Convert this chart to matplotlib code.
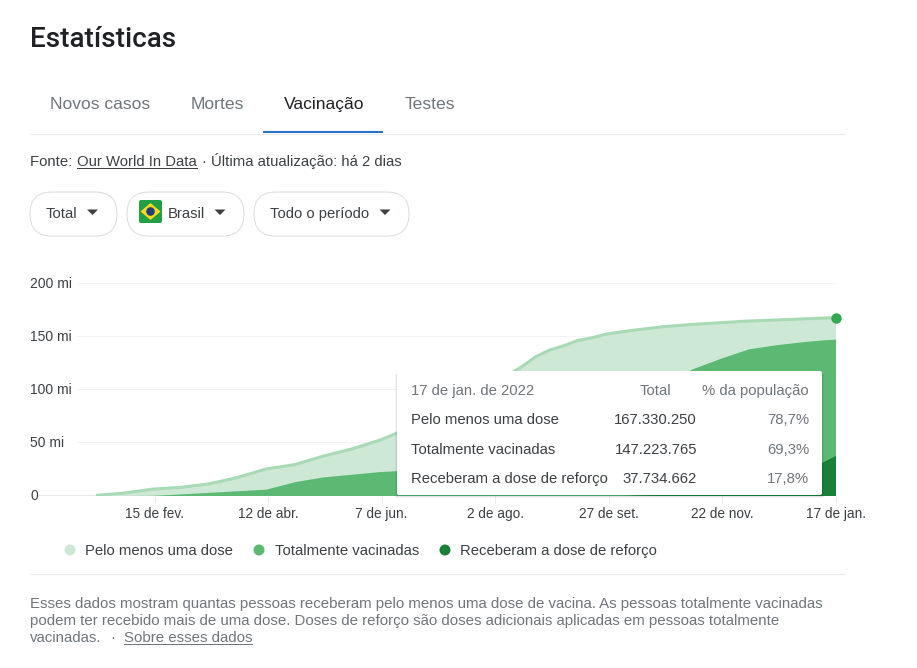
import pandas as pd
import matplotlib
matplotlib.use('Agg')
import matplotlib.pyplot as plt
from matplotlib.patches import FancyBboxPatch, Rectangle, Polygon, Circle

plt.rcParams['font.family'] = ['Liberation Sans', 'DejaVu Sans']

W, H = 917, 668

# values in millions (the part behind the tooltip is a guess)
dates = ['2021-01-17', '2021-01-31', '2021-02-14', '2021-02-28', '2021-03-14', '2021-03-28',
         '2021-04-11', '2021-04-25', '2021-05-09', '2021-05-23', '2021-06-06', '2021-06-20',
         '2021-07-04', '2021-07-18', '2021-08-01', '2021-08-15', '2021-08-22', '2021-08-29',
         '2021-09-05', '2021-09-12', '2021-09-19', '2021-09-26', '2021-10-03', '2021-10-10',
         '2021-10-24', '2021-11-07', '2021-11-21', '2021-12-05', '2021-12-19', '2022-01-02',
         '2022-01-11', '2022-01-17']
pelo_menos = [0.1, 2.3, 6.0, 7.7, 11, 17, 25, 29, 37, 43.7, 52, 63, 78, 93, 105, 121,
              130.6, 137, 141, 146, 148.5, 152, 153.9, 155.7, 158.9, 161, 162.6, 164.2,
              165.2, 166.3, 167.0, 167.3]
totalmente = [0, 0, 0.2, 1.5, 3, 4.5, 6, 13, 17.5, 20, 22.5, 24, 28, 34, 40, 47,
              51, 56, 61, 66, 72, 78, 84, 90, 103, 119, 129, 138, 142, 145, 146.5, 147.2]
reforco = [0, 0, 0, 0, 0, 0, 0, 0, 0, 0, 0, 0, 0, 0, 0, 0,
           0, 0, 0, 0, 0, 0, 0, 0.5, 1, 2, 4, 8, 16, 24, 32, 37.7]

x_ticks = ['2021-02-15', '2021-04-12', '2021-06-07', '2021-08-02', '2021-09-27', '2021-11-22', '2022-01-17']
x_labels = ['15 de fev.', '12 de abr.', '7 de jun.', '2 de ago.', '27 de set.', '22 de nov.', '17 de jan.']
y_ticks = [0, 50, 100, 150, 200]
y_labels = ['0', '50 mi', '100 mi', '150 mi', '200 mi']

series_names = ['Pelo menos uma dose', 'Totalmente vacinadas', 'Receberam a dose de reforço']
series_total = ['167.330.250', '147.223.765', '37.734.662']
series_pct = ['78,7%', '69,3%', '17,8%']

tabs = ['Novos casos', 'Mortes', 'Vacinação', 'Testes']

x = pd.to_datetime(dates)

c_light = '#cee8d6'
c_light_top = '#a8dab5'
c_mid = '#5bb974'
c_dark = '#188038'
c_text = '#3c4043'
c_grey = '#70757a'
c_line = '#e8eaed'
px1 = 0.72  # line width of one pixel

fig = plt.figure(figsize=(W / 100, H / 100), dpi=100, facecolor='white')

# chart
left, right, top, bottom = 30, 835.5, 252, 495.5
ax = fig.add_axes([left / W, 1 - bottom / H, (right - left) / W, (bottom - top) / H])
px_per_day = (right - 96) / 365
ax.set_xlim(x[0] - pd.Timedelta(days=(96 - left) / px_per_day), x[-1])
ax.set_ylim(0, (bottom - top) / 1.0625)
for s in ax.spines.values():
    s.set_visible(False)
ax.patch.set_alpha(0)

for v in y_ticks[1:]:
    ax.axhline(v, xmin=(77 - left) / (right - left), color='#f1f3f4', lw=px1, zorder=1)
ax.axhline(0, xmin=(38 - left) / (right - left), color='#e8eaed', lw=1.4, zorder=1)

ax.fill_between(x, pelo_menos, color=c_light, lw=0, zorder=2)
ax.plot(x, pelo_menos, color=c_light_top, lw=2.2, zorder=3, solid_capstyle='butt')
ax.fill_between(x, totalmente, color=c_mid, lw=0, zorder=4)
ax.fill_between(x, reforco, color=c_dark, lw=0, zorder=5)

ax.axvline(x[-1], color='#5f6368', lw=px1, ls=(0, (1, 1.4)), zorder=6)
ax.plot([x[-1]], [pelo_menos[-1]], 'o', color='#34a853', ms=7.5, mew=0, zorder=7, clip_on=False)

ax.set_xticks(pd.to_datetime(x_ticks))
ax.set_xticklabels(x_labels, fontsize=9.8, color=c_text)
ax.tick_params(axis='x', length=5, width=px1, color=c_line, pad=3.5)
ax.set_yticks(y_ticks)
ax.set_yticklabels([])
ax.tick_params(axis='y', length=0)
for v, lab in zip(y_ticks, y_labels):
    ax.text(0, v - 0.8, lab, transform=ax.get_yaxis_transform(), ha='left', va='center',
            fontsize=10, color=c_text, clip_on=False)

# page furniture, in pixel coordinates
ov = fig.add_axes([0, 0, 1, 1])
ov.set_xlim(0, W)
ov.set_ylim(H, 0)
ov.axis('off')
ov.patch.set_alpha(0)


# py is the middle of the capitals, text sits on its baseline so rows line up
def txt(px, py, s, size=10.7, color=c_text, ha='left', **kw):
    return ov.text(px, py + size * 0.47, s, fontsize=size, color=color, ha=ha, va='baseline', **kw)


txt(30, 38, 'Estatísticas', size=20.1, color='#202124', family='Roboto', weight='medium')

# tabs
tab_x = [100, 217, 324, 429.5]
for i, (t, tx) in enumerate(zip(tabs, tab_x)):
    txt(tx, 103, t, size=12.6, color='#202124' if i == 2 else c_grey, ha='center')
ov.plot([30, 845], [133.5, 133.5], color=c_line, lw=px1)
ov.plot([263, 383], [132, 132], color='#2b6fc2', lw=1.5, solid_capstyle='butt')

# source line
txt(30, 161, 'Fonte: ')
txt(77, 161, 'Our World In Data')
ov.plot([77, 197], [167.5, 167.5], color=c_text, lw=px1)
txt(202, 161, '· Última atualização: há 2 dias')

# dropdown chips
for x0, x1 in [(30, 117), (127, 244), (254, 409)]:
    ov.add_patch(FancyBboxPatch((x0 + 22, 192 + 22), x1 - x0 - 44, 0.1,
                                boxstyle='round,pad=22,rounding_size=22',
                                fc='white', ec='#dadce0', lw=px1))
txt(46, 213, 'Total')
txt(168, 213, 'Brasil')
txt(270, 213, 'Todo o período')
for cx in [92.5, 220, 385]:
    ov.add_patch(Polygon([(cx - 5.5, 209.5), (cx + 5.5, 209.5), (cx, 215)], fc=c_text, ec='none'))

# flag
ov.add_patch(FancyBboxPatch((141, 202), 19, 19, boxstyle='round,pad=2,rounding_size=2', fc='#229e45', ec='none'))
ov.add_patch(Polygon([(140.5, 211.5), (150.5, 203), (160.5, 211.5), (150.5, 220)], fc='#f4dc1c', ec='none'))
ov.add_patch(Circle((150.5, 211.5), 4.3, fc='#1f3d7a', ec='none'))

# tooltip, shadow mostly below the box
for grow, alpha in [(2, 0.04), (1, 0.07)]:
    ov.add_patch(Rectangle((397 - grow, 374), 425 + 2 * grow, 121 + 1.5 * grow,
                           fc='#000000', alpha=alpha, ec='none'))
ov.add_patch(FancyBboxPatch((399, 373), 421, 120, boxstyle='round,pad=2,rounding_size=2', fc='white', ec='none'))
txt(411, 390, '17 de jan. de 2022', color=c_grey)
txt(671, 390, 'Total', color=c_grey, ha='right')
txt(809, 390, '% da população', color=c_grey, ha='right')
for name, total, pct, py in zip(series_names, series_total, series_pct, [419, 449, 478]):
    txt(411, py, name)
    txt(697, py, total, ha='right')
    txt(809, py, pct, color=c_grey, ha='right')

# legend
for name, col, cx, tx in zip(series_names, [c_light, c_mid, c_dark], [70, 259, 445], [85, 275, 460]):
    ov.add_patch(Circle((cx, 550), 5.5, fc=col, ec='none'))
    txt(tx, 550, name)

ov.plot([30, 845], [573.5, 573.5], color=c_line, lw=px1)

# footnote
txt(30, 603, 'Esses dados mostram quantas pessoas receberam pelo menos uma dose de vacina. As pessoas totalmente vacinadas', size=10.8, color=c_grey)
txt(30, 620, 'podem ter recebido mais de uma dose. Doses de reforço são doses adicionais aplicadas em pessoas totalmente', size=10.8, color=c_grey)
txt(30, 637, 'vacinadas.', size=10.8, color=c_grey)
txt(110, 637, '·', size=10.8, color=c_grey)
txt(124, 637, 'Sobre esses dados', size=10.8, color=c_grey)
ov.plot([124, 252], [644, 644], color=c_grey, lw=px1)

fig.savefig('out.png', dpi=100)
